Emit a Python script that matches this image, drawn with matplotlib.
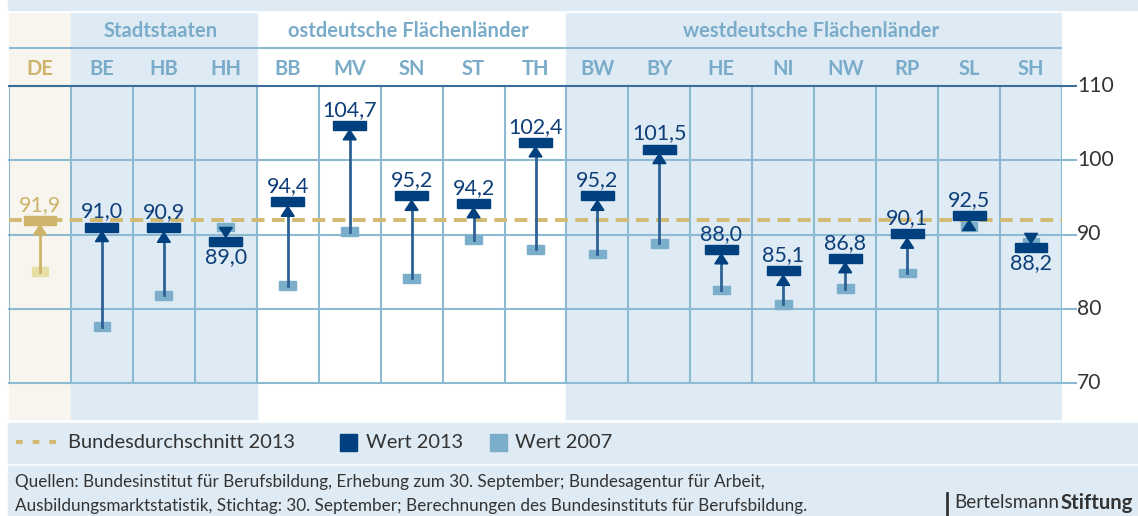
import matplotlib
matplotlib.use("Agg")
import matplotlib.pyplot as plt
from matplotlib.patches import Rectangle, Polygon

plt.rcParams['font.family'] = ['Lato', 'DejaVu Sans']

codes = ['DE', 'BE', 'HB', 'HH', 'BB', 'MV', 'SN', 'ST', 'TH',
         'BW', 'BY', 'HE', 'NI', 'NW', 'RP', 'SL', 'SH']
wert_2013 = [91.9, 91.0, 90.9, 89.0, 94.4, 104.7, 95.2, 94.2, 102.4,
             95.2, 101.5, 88.0, 85.1, 86.8, 90.1, 92.5, 88.2]
wert_2007 = [85.0, 77.6, 81.8, 91.0, 83.1, 90.4, 84.1, 89.3, 88.0,
             87.4, 88.8, 82.5, 80.6, 82.7, 84.8, 91.1, 89.0]
durchschnitt = 91.9
groups = [('Stadtstaaten', 1, 3), ('ostdeutsche Flächenländer', 4, 8),
          ('westdeutsche Flächenländer', 9, 16)]
yticks = [70, 80, 90, 100, 110]

NAVY = '#01407e'
LINE = '#2e6194'
LIGHT = '#7aaecb'
BG = '#deebf4'
BEIGE = '#f7f5ee'
GOLD = '#cdb46a'
GOLD_PALE = '#e7dea8'
GRID = '#8dbad3'
HEAD = '#7aacca'
TXT = '#333333'

W, H = 1138, 516
fig = plt.figure(figsize=(W / 100, H / 100), dpi=100)

def fx(px):
    return px / W

def fy(py):
    return 1 - py / H

# top band, legend band, source band
for y0, y1 in [(0, 10), (423, 463), (466, 516)]:
    fig.patches.append(Rectangle((fx(8), fy(y1)), 1 - fx(8), (y1 - y0) / H,
                                 transform=fig.transFigure, color=BG, zorder=0))

ax = fig.add_axes([fx(9), fy(420), fx(1062) - fx(9), (420 - 13) / H])
ax.set_xlim(-0.5, 16.5)
ax.set_ylim(65.02, 119.83)
ax.axis('off')

# column backgrounds
ax.add_patch(Rectangle((-0.5, 65.02), 1, 60, color=BEIGE, zorder=0))
ax.add_patch(Rectangle((0.5, 65.02), 3, 60, color=BG, zorder=0))
ax.add_patch(Rectangle((8.5, 65.02), 8, 60, color=BG, zorder=0))

# grid
for k in range(18):
    ax.plot([k - 0.5, k - 0.5], [70, 110], color=GRID, lw=1.5, zorder=1)
for t in yticks:
    c = '#3b6d9a' if t == 110 else GRID
    ax.plot([-0.5, 16.72], [t, t], color=c, lw=1.5, zorder=1, clip_on=False)
    fig.text(fx(1077), fy(86 + (110 - t) * 7.425), str(t), ha='left',
             va='center', fontsize=15.2, color=TXT)
ax.plot([-0.5, 16.5], [115.12, 115.12], color=GRID, lw=1.5, zorder=1)

# headers
for i, c in enumerate(codes):
    ax.text(i, 112.3, c, ha='center', va='center', fontsize=14.5,
            fontweight='bold', color=GOLD if i == 0 else HEAD)
for name, a, b in groups:
    ax.text((a + b) / 2 - 0.05, 117.4, name, ha='center', va='center', fontsize=14.5,
            fontweight='bold', color=HEAD)

# average line
ax.plot([-0.5, 16.5], [durchschnitt] * 2, color='#d3ba72', lw=2.8,
        dashes=(3.3, 1.9), zorder=2)

bw, bh = 0.53, 1.2
sw, sh = 0.27, 1.15
tw, th = 0.21, 1.35
for i, (v13, v07) in enumerate(zip(wert_2013, wert_2007)):
    if i == 0:
        cbar, csq, cln, ctxt = GOLD, GOLD_PALE, GOLD, GOLD
    else:
        cbar, csq, cln, ctxt = NAVY, LIGHT, LINE, '#0d3e78'
    ax.add_patch(Rectangle((i - sw / 2, v07 - sh / 2), sw, sh, color=csq, zorder=3))
    up = v13 > v07
    if up:
        tip = v13 - bh / 2
        base = tip - th
    else:
        tip = v13 + bh / 2
        base = tip + th
    if (up and base > v07) or (not up and base < v07):
        ax.plot([i, i], [v07, base], color=cln, lw=2, zorder=4)
    ax.add_patch(Polygon([(i - tw / 2, base), (i + tw / 2, base), (i, tip)],
                         closed=True, color=cbar if i == 0 else NAVY, zorder=5))
    ax.add_patch(Rectangle((i - bw / 2, v13 - bh / 2), bw, bh, color=cbar, zorder=6))
    lab = f'{v13:.1f}'.replace('.', ',')
    if up:
        ax.text(i, v13 + bh / 2 + 0.15, lab, ha='center', va='bottom',
                fontsize=15.5, color=ctxt, zorder=7)
    else:
        ax.text(i, v13 - bh / 2 - 0.15, lab, ha='center', va='top',
                fontsize=15.5, color=ctxt, zorder=7)

# legend
fig.lines.append(plt.Line2D([fx(16), fx(56)], [fy(442), fy(442)], transform=fig.transFigure,
                            color='#d3ba72', lw=3, dashes=(1.6, 2.4)))
fig.text(fx(68), fy(442), 'Bundesdurchschnitt 2013', ha='left', va='center',
         fontsize=14.4, color=TXT)
fig.patches.append(Rectangle((fx(340), fy(451)), 17 / W, 17 / H,
                             transform=fig.transFigure, color=NAVY))
fig.text(fx(366), fy(442), 'Wert 2013', ha='left', va='center', fontsize=14.4, color=TXT)
fig.patches.append(Rectangle((fx(490), fy(451)), 17 / W, 17 / H,
                             transform=fig.transFigure, color=LIGHT))
fig.text(fx(515), fy(442), 'Wert 2007', ha='left', va='center', fontsize=14.4, color=TXT)

# source
fig.text(fx(15), fy(482), 'Quellen: Bundesinstitut für Berufsbildung, Erhebung zum 30. September; '
         'Bundesagentur für Arbeit,', ha='left', va='center', fontsize=12.3, color=TXT)
fig.text(fx(15), fy(506), 'Ausbildungsmarktstatistik, Stichtag: 30. September; '
         'Berechnungen des Bundesinstituts für Berufsbildung.', ha='left', va='center',
         fontsize=12.3, color=TXT)

# logo
fig.lines.append(plt.Line2D([fx(947), fx(947)], [fy(493), fy(515)], transform=fig.transFigure,
                            color=TXT, lw=2))
t1 = fig.text(fx(1133), fy(503), 'Stiftung', ha='right', va='center', fontsize=14.6,
              fontweight='bold', color=TXT)
fig.canvas.draw()
w1 = t1.get_window_extent().width
fig.text(fx(1133 - w1 - 1), fy(503), 'Bertelsmann', ha='right', va='center',
         fontsize=13.6, color=TXT)

fig.savefig('out.png', dpi=100)
